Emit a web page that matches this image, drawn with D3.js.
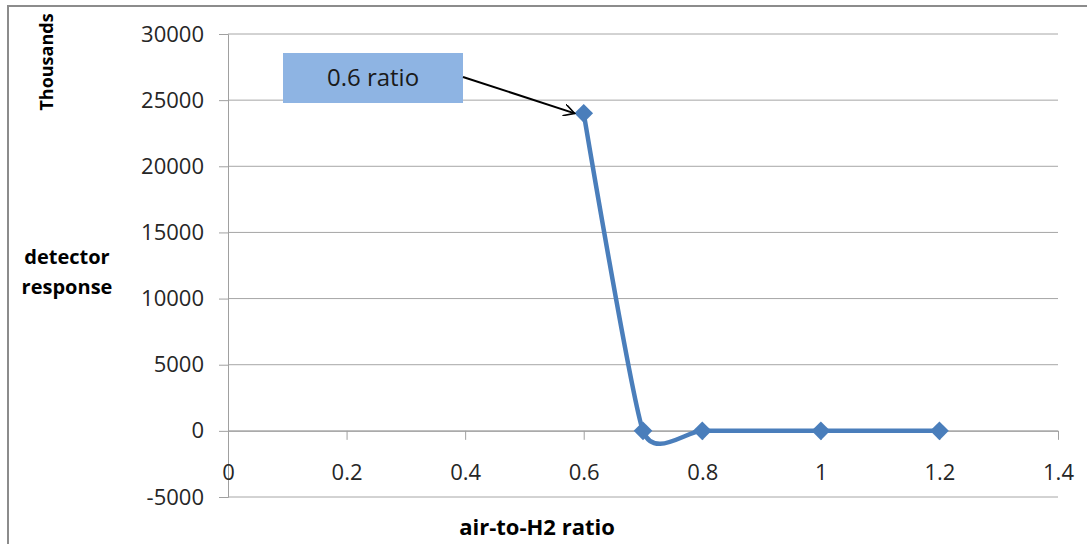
<!DOCTYPE html>
<html>
<head>
<meta charset="utf-8">
<script src="https://cdn.jsdelivr.net/npm/d3@7"></script>
<style>
  body { margin: 0; background: #fff; }
  svg { display: block; font-family: "Open Sans", sans-serif; }
</style>
</head>
<body>
<svg width="1087" height="544"></svg>
<script>
// values
var ratios = [0.6, 0.7, 0.8, 1.0, 1.2];
var responses = [24000, 0, 0, 0, 0];
var xTicks = [0, 0.2, 0.4, 0.6, 0.8, 1, 1.2, 1.4];
var yTicks = [-5000, 0, 5000, 10000, 15000, 20000, 25000, 30000];
var calloutText = '0.6 ratio';
var calloutIndex = 0;

var svg = d3.select('svg'),
    margin = {top: 34, right: 29, bottom: 47, left: 228},
    width = +svg.attr('width') - margin.left - margin.right,
    height = +svg.attr('height') - margin.top - margin.bottom;

var data = ratios.map((r, i) => ({ratio: r, response: responses[i]}));

var x = d3.scaleLinear().domain([0, 1.4]).range([0, width]);
var y = d3.scaleLinear().domain([-5000, 30000]).range([height, 0]);

// outer frame
svg.append('rect')
  .attr('x', 8).attr('y', 6)
  .attr('width', 1100).attr('height', 560)
  .attr('fill', 'none')
  .attr('stroke', '#8c8c8c')
  .attr('stroke-width', 2);

var g = svg.append('g').attr('transform', `translate(${margin.left},${margin.top})`);

// horizontal gridlines
g.append('g')
  .selectAll('line')
  .data(yTicks)
  .join('line')
  .attr('x1', 0).attr('x2', width)
  .attr('y1', d => y(d)).attr('y2', d => y(d))
  .attr('stroke', '#a6a6a6')
  .attr('stroke-width', 1);

// y axis
var yAxis = g.append('g')
  .call(d3.axisLeft(y).tickValues(yTicks).tickFormat(d => String(d)).tickSize(9).tickPadding(15));
yAxis.select('.domain').attr('stroke', '#a0a0a0');
yAxis.selectAll('.tick line').attr('stroke', '#a0a0a0');
yAxis.selectAll('text')
  .attr('font-size', 22)
  .attr('fill', '#262626')
  .attr('font-family', '"Open Sans", sans-serif');

// x axis sits on zero
var xAxis = g.append('g')
  .attr('transform', `translate(0,${y(0)})`)
  .call(d3.axisBottom(x).tickValues(xTicks).tickFormat(d => String(d)).tickSize(9).tickSizeOuter(0).tickPadding(25));
xAxis.select('.domain').attr('stroke', '#a0a0a0');
xAxis.selectAll('.tick line').attr('stroke', '#a0a0a0').attr('display', d => d === 0 ? 'none' : null);
xAxis.selectAll('text')
  .attr('font-size', 22)
  .attr('fill', '#262626')
  .attr('font-family', '"Open Sans", sans-serif');

// smoothed line
var line = d3.line()
  .x(d => x(d.ratio))
  .y(d => y(d.response))
  .curve(d3.curveCardinal.tension(0.45));

g.append('path')
  .datum(data)
  .attr('fill', 'none')
  .attr('stroke', '#4a7ebb')
  .attr('stroke-width', 4.5)
  .attr('stroke-linejoin', 'round')
  .attr('d', line);

// diamond markers
g.selectAll('.marker')
  .data(data)
  .join('path')
  .attr('class', 'marker')
  .attr('d', d3.symbol().type(d3.symbolSquare).size(175))
  .attr('transform', d => `translate(${x(d.ratio)},${y(d.response)}) rotate(45)`)
  .attr('fill', '#4a7ebb');

// callout box + arrow
var box = {x: 283, y: 53, w: 180, h: 50};
svg.append('rect')
  .attr('x', box.x).attr('y', box.y)
  .attr('width', box.w).attr('height', box.h)
  .attr('fill', '#8eb4e3');
svg.append('text')
  .attr('x', box.x + box.w / 2)
  .attr('y', box.y + box.h / 2)
  .attr('dy', '0.35em')
  .attr('text-anchor', 'middle')
  .attr('font-size', 24)
  .attr('fill', '#1a1a1a')
  .text(calloutText);

svg.append('defs').append('marker')
  .attr('id', 'arrow')
  .attr('viewBox', '0 0 12 12')
  .attr('refX', 11).attr('refY', 6)
  .attr('markerWidth', 12).attr('markerHeight', 12)
  .attr('markerUnits', 'userSpaceOnUse')
  .attr('orient', 'auto')
  .append('path')
  .attr('d', 'M0,0 L11,6 L0,12')
  .attr('fill', 'none')
  .attr('stroke', '#000')
  .attr('stroke-width', 1.6);

var target = data[calloutIndex];
svg.append('line')
  .attr('x1', box.x + box.w).attr('y1', box.y + 24)
  .attr('x2', margin.left + x(target.ratio) - 9)
  .attr('y2', margin.top + y(target.response))
  .attr('stroke', '#000')
  .attr('stroke-width', 2)
  .attr('marker-end', 'url(#arrow)');

// axis titles
svg.append('text')
  .attr('transform', 'translate(53,62) rotate(-90)')
  .attr('text-anchor', 'middle')
  .attr('font-size', 18)
  .attr('font-weight', 'bold')
  .attr('fill', '#000')
  .text('Thousands');

svg.append('text')
  .attr('x', 67).attr('y', 264)
  .attr('text-anchor', 'middle')
  .attr('font-size', 20)
  .attr('font-weight', 'bold')
  .attr('fill', '#000')
  .text('detector');
svg.append('text')
  .attr('x', 67).attr('y', 294)
  .attr('text-anchor', 'middle')
  .attr('font-size', 20)
  .attr('font-weight', 'bold')
  .attr('fill', '#000')
  .text('response');

svg.append('text')
  .attr('x', 537).attr('y', 535)
  .attr('text-anchor', 'middle')
  .attr('font-size', 22)
  .attr('font-weight', 'bold')
  .attr('fill', '#000')
  .text('air-to-H2 ratio');
</script>
</body>
</html>
